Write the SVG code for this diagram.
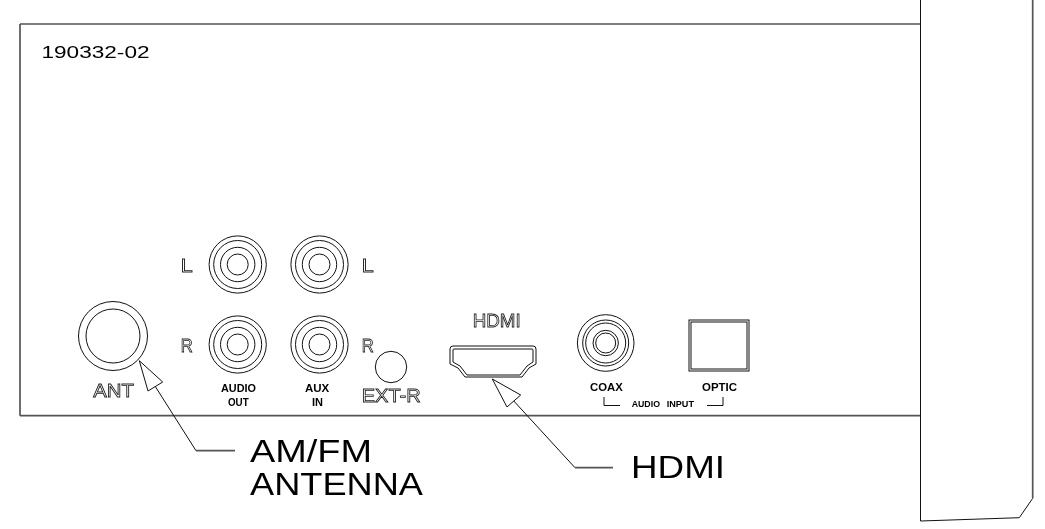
<svg xmlns="http://www.w3.org/2000/svg" width="1045" height="529" viewBox="0 0 1045 529">
<style>
.l{fill:none;stroke:#111;stroke-width:1}
.g{fill:none;stroke:#555;stroke-width:1.7}
text{font-family:"Liberation Sans",Arial,sans-serif;fill:#000;filter:url(#n)}
.o{fill:#fff;stroke:#222;stroke-width:.8;font-size:18px}
.b{font-weight:bold;font-size:11px}
.s{font-size:9px}
.big{font-size:32px}
</style>
<defs>
<filter id="n" x="-10%" y="-30%" width="120%" height="160%" color-interpolation-filters="sRGB"><feOffset dx="0" dy="0"/></filter>
<g id="rca"><circle class="l" r="28.600"/><circle class="l" r="24"/><circle class="l" r="17.200"/><circle class="l" r="10.500"/></g>
</defs>
<rect width="1045" height="529" fill="#fff"/>
<g id="chassis">
<path class="g" d="M20 415.700H920M20 415.700V24"/>
<path class="g" d="M20 24H920"/>
</g>
<g id="side-panel">
<path class="l" d="M920.500 0V521L1019.300 517.700L1032.700 498.300"/>
<path class="g" d="M1032.700 498.300V0"/>
</g>
<text x="41.500" y="58" font-size="16" textLength="108" lengthAdjust="spacingAndGlyphs">190332-02</text>
<g id="ant"><circle class="l" cx="113" cy="336" r="34.500"/><circle class="l" cx="113" cy="336" r="27"/><text class="o" x="93.300" y="397" textLength="40.700" lengthAdjust="spacingAndGlyphs">ANT</text></g>
<g id="audio-out-l"><use href="#rca" x="237.700" y="264.500"/><text class="o" x="180.700" y="272" textLength="12" lengthAdjust="spacingAndGlyphs">L</text></g>
<g id="aux-in-l"><use href="#rca" x="319.500" y="264.500"/><text class="o" x="361.700" y="272" textLength="12" lengthAdjust="spacingAndGlyphs">L</text></g>
<g id="audio-out-r"><use href="#rca" x="237.700" y="344.500"/><text class="o" x="180.700" y="351.500" textLength="12" lengthAdjust="spacingAndGlyphs">R</text><text class="b" x="221" y="391.700" textLength="35" lengthAdjust="spacingAndGlyphs">AUDIO</text><text class="b" x="228" y="405.700" textLength="20.700" lengthAdjust="spacingAndGlyphs">OUT</text></g>
<g id="aux-in-r"><use href="#rca" x="319.500" y="344.500"/><text class="o" x="361.700" y="351.500" textLength="12" lengthAdjust="spacingAndGlyphs">R</text><text class="b" x="305" y="391.700" textLength="24.300" lengthAdjust="spacingAndGlyphs">AUX</text><text class="b" x="312" y="405.700" textLength="11" lengthAdjust="spacingAndGlyphs">IN</text></g>
<g id="ext-r"><circle class="l" cx="391" cy="367" r="15.700"/><text class="o" x="361.700" y="402" textLength="59" lengthAdjust="spacingAndGlyphs">EXT-R</text></g>
<g id="hdmi"><text class="o" x="472.700" y="327" textLength="48" lengthAdjust="spacingAndGlyphs">HDMI</text>
<path class="l" d="M453 346H533Q536 346 536 349V364L529 368L522 377H465L458 368L450 364V349Q450 346 453 346Z"/>
<path class="l" d="M454 349H532Q533 349 533 350V362L527 366L520 375H467L460 366L453 362V350Q453 349 454 349Z"/></g>
<g id="coax"><circle class="l" cx="605.700" cy="343" r="28.300"/><circle class="l" cx="605.700" cy="343" r="23"/><circle class="l" cx="605.700" cy="343" r="20"/><circle class="l" cx="605.700" cy="343" r="12.700"/><circle class="l" cx="605.700" cy="343" r="10"/><text class="b" x="590" y="390.700" textLength="32.700" lengthAdjust="spacingAndGlyphs">COAX</text></g>
<g id="optic"><rect class="l" x="689" y="320" width="60" height="51"/><rect class="l" x="691" y="322" width="56" height="47"/><text class="b" x="702" y="390.700" textLength="35" lengthAdjust="spacingAndGlyphs">OPTIC</text></g>
<g id="audio-input"><path class="l" d="M604 397V405.500H620M707 405.500H723V397"/><text class="b s" x="631.700" y="406.700" textLength="28.300" lengthAdjust="spacingAndGlyphs">AUDIO</text><text class="b s" x="666.700" y="406.700" textLength="27.300" lengthAdjust="spacingAndGlyphs">INPUT</text></g>
<g id="connectors">
<path class="l" d="M139.300 360.700L148 391L162.700 382Z"/>
<path class="l" d="M155.300 386.500L196 450.700"/><path class="g" d="M196 450.700H235"/>
<path class="l" d="M492.300 379L507 407L520.700 395Z"/>
<path class="l" d="M513.800 401L575 467.700"/><path class="g" d="M575 467.700H613"/>
</g>
<text class="big" x="250" y="461.700" textLength="122" lengthAdjust="spacingAndGlyphs">AM/FM</text>
<text class="big" x="250" y="495" textLength="173" lengthAdjust="spacingAndGlyphs">ANTENNA</text>
<text class="big" x="631" y="478" textLength="94" lengthAdjust="spacingAndGlyphs">HDMI</text>
</svg>
